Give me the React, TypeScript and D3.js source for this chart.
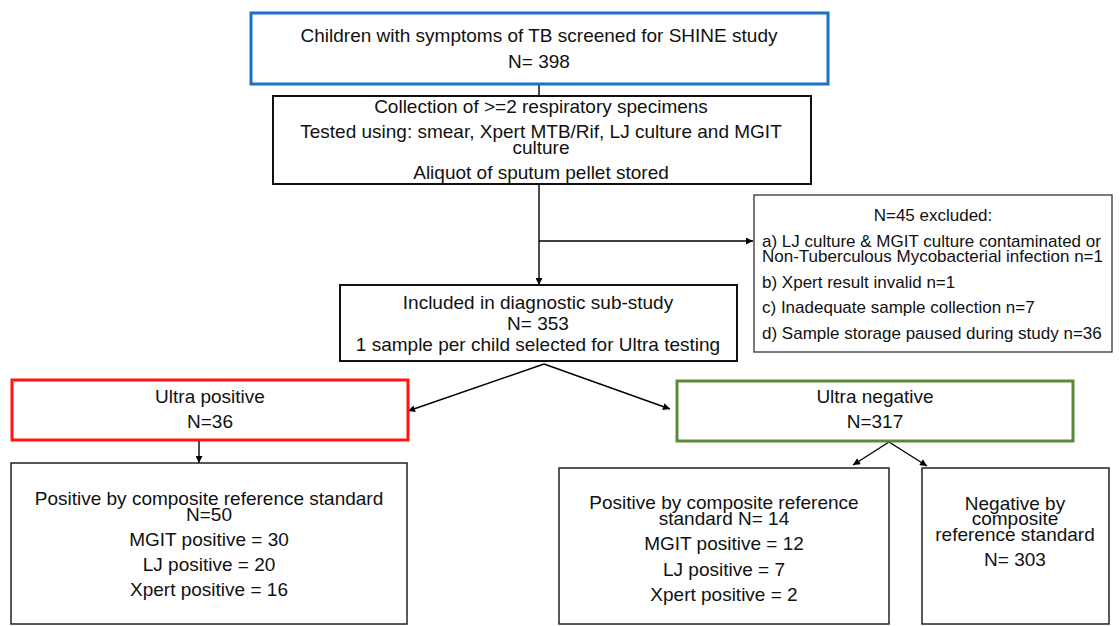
import { useEffect, useRef } from 'react';
import * as d3 from 'd3';

// text of each box: paragraphs, each one a list of wrapped lines
const screenedText = [['Children with symptoms of TB screened for SHINE study'], ['N= 398']];
const collectionText = [
  ['Collection of >=2 respiratory specimens'],
  ['Tested using: smear, Xpert MTB/Rif, LJ culture and MGIT', 'culture'],
  ['Aliquot of sputum pellet stored'],
];
const excludedTitle = [['N=45 excluded:']];
const excludedReasons = [
  ['a) LJ culture & MGIT culture contaminated or', 'Non-Tuberculous Mycobacterial infection n=1'],
  ['b) Xpert result invalid n=1'],
  ['c) Inadequate sample collection n=7'],
  ['d) Sample storage paused during study n=36'],
];
const includedText = [['Included in diagnostic sub-study'], ['N= 353'], ['1 sample per child selected for Ultra testing']];
const ultraPosText = [['Ultra positive'], ['N=36']];
const ultraNegText = [['Ultra negative'], ['N=317']];
const posRefPosText = [
  ['Positive by composite reference standard', 'N=50'],
  ['MGIT positive = 30'],
  ['LJ positive = 20'],
  ['Xpert positive = 16'],
];
const negRefPosText = [
  ['Positive by composite reference', 'standard N= 14'],
  ['MGIT positive = 12'],
  ['LJ positive = 7'],
  ['Xpert positive = 2'],
];
const negRefNegText = [['Negative by', 'composite', 'reference standard'], ['N= 303']];

const W = 1120;
const H = 626;
const FONT = '"Liberation Sans", Arial, Helvetica, sans-serif';

interface Box {
  id: string;
  x: number; y: number; w: number; h: number;
  stroke: string; sw: number;
}

const boxes: Box[] = [
  { id: 'screened', x: 251, y: 13, w: 577, h: 71, stroke: '#1b70c6', sw: 3 },
  { id: 'collection', x: 273, y: 96, w: 538, h: 88, stroke: '#111', sw: 2 },
  { id: 'excluded', x: 754, y: 195, w: 358, h: 157, stroke: '#333', sw: 1.3 },
  { id: 'included', x: 340, y: 285, w: 397, h: 76, stroke: '#111', sw: 2 },
  { id: 'ultraPos', x: 12, y: 380, w: 396, h: 60, stroke: '#ff1414', sw: 3 },
  { id: 'ultraNeg', x: 677, y: 381, w: 396, h: 60, stroke: '#5b8b3a', sw: 3 },
  { id: 'posRefPos', x: 11, y: 463, w: 396, h: 161, stroke: '#222', sw: 1.5 },
  { id: 'negRefPos', x: 559, y: 468, w: 330, h: 156, stroke: '#222', sw: 1.5 },
  { id: 'negRefNeg', x: 922, y: 468, w: 187, h: 156, stroke: '#222', sw: 1.5 },
];

interface TextBlock {
  paras: string[][];
  x: number; top: number;
  lineGap: number; paraGap: number;
  size: number; anchor: string;
}

const texts: TextBlock[] = [
  { paras: screenedText, x: 539, top: 35, lineGap: 16, paraGap: 26, size: 19, anchor: 'middle' },
  { paras: collectionText, x: 541, top: 106, lineGap: 16, paraGap: 25, size: 19, anchor: 'middle' },
  { paras: excludedTitle, x: 933, top: 215, lineGap: 15, paraGap: 26, size: 17, anchor: 'middle' },
  { paras: excludedReasons, x: 762, top: 241, lineGap: 15, paraGap: 25.5, size: 17, anchor: 'start' },
  { paras: includedText, x: 538, top: 302, lineGap: 16, paraGap: 21, size: 19, anchor: 'middle' },
  { paras: ultraPosText, x: 210, top: 396, lineGap: 16, paraGap: 25, size: 19, anchor: 'middle' },
  { paras: ultraNegText, x: 875, top: 396, lineGap: 16, paraGap: 25, size: 19, anchor: 'middle' },
  { paras: posRefPosText, x: 209, top: 498, lineGap: 16, paraGap: 25, size: 19, anchor: 'middle' },
  { paras: negRefPosText, x: 724, top: 502, lineGap: 16, paraGap: 25.5, size: 19, anchor: 'middle' },
  { paras: negRefNegText, x: 1015, top: 503, lineGap: 15.5, paraGap: 25, size: 19, anchor: 'middle' },
];

// connectors: [x1, y1, x2, y2, arrow]
const links: [number, number, number, number, boolean][] = [
  [539, 84, 539, 96, false],
  [539, 184, 539, 285, true],
  [539, 241, 753, 241, true],
  [544, 364, 408, 411, true],
  [544, 364, 670, 409, true],
  [199, 441, 199, 463, true],
  [889, 442, 853, 465, true],
  [889, 442, 927, 466, true],
];

export default function App() {
  const svgRef = useRef<SVGSVGElement>(null);

  useEffect(() => {
    if (!svgRef.current) return;
    const svg = d3.select(svgRef.current);
    svg.selectAll('*').remove();

    svg.append('defs').append('marker')
      .attr('id', 'arr')
      .attr('viewBox', '0 0 10 10')
      .attr('refX', 10)
      .attr('refY', 5)
      .attr('markerWidth', 9)
      .attr('markerHeight', 7)
      .attr('markerUnits', 'userSpaceOnUse')
      .attr('orient', 'auto')
      .append('path')
      .attr('d', 'M0,0 L10,5 L0,10 z')
      .attr('fill', '#000');

    svg.append('rect').attr('width', W).attr('height', H).attr('fill', '#fff');

    svg.append('g').selectAll('line')
      .data(links)
      .join('line')
      .attr('x1', d => d[0]).attr('y1', d => d[1])
      .attr('x2', d => d[2]).attr('y2', d => d[3])
      .attr('stroke', '#000')
      .attr('stroke-width', 1.4)
      .attr('marker-end', d => (d[4] ? 'url(#arr)' : null));

    svg.append('g').selectAll('rect')
      .data(boxes)
      .join('rect')
      .attr('x', d => d.x).attr('y', d => d.y)
      .attr('width', d => d.w).attr('height', d => d.h)
      .attr('fill', 'none')
      .attr('stroke', d => d.stroke)
      .attr('stroke-width', d => d.sw);

    const tg = svg.append('g').attr('font-family', FONT).attr('fill', '#111');
    texts.forEach(t => {
      let y = t.top;
      t.paras.forEach((para, pi) => {
        if (pi > 0) y += t.paraGap;
        para.forEach((line, li) => {
          if (li > 0) y += t.lineGap;
          tg.append('text')
            .attr('x', t.x)
            .attr('y', y)
            .attr('dy', '0.36em')
            .attr('font-size', t.size)
            .attr('text-anchor', t.anchor)
            .text(line);
        });
      });
    });
  }, []);

  return (
    <svg
      ref={svgRef}
      width={W}
      height={H}
      style={{ position: 'absolute', left: 0, top: 0, display: 'block' }}
    />
  );
}
